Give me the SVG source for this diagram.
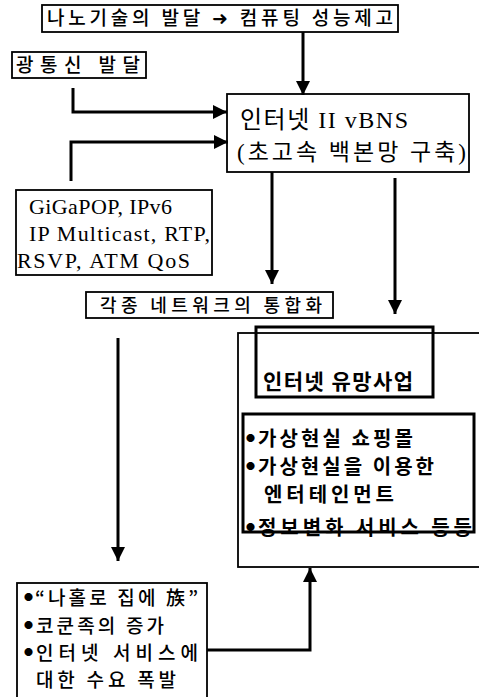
<svg xmlns="http://www.w3.org/2000/svg" width="479" height="697" viewBox="0 0 479 697">
<defs>
<marker id="ah" markerUnits="userSpaceOnUse" markerWidth="14" markerHeight="14" refX="14" refY="7" orient="auto">
<path d="M0,0 L14,7 L0,14 Z" fill="#000"/>
</marker>
</defs>
<style>
.box{fill:#fff;stroke:#000;stroke-width:1.8}
.tbox{fill:none;stroke:#000;stroke-width:3}
.kr{font-family:"Noto Sans CJK KR",sans-serif;fill:#000;font-weight:500}
.mix{font-family:"Liberation Serif","Noto Sans CJK KR",serif;fill:#000}
.b{font-weight:bold}
.dot{font-size:9px}
.con{fill:none;stroke:#000;stroke-width:3}
</style>
<rect width="479" height="697" fill="#fff"/>

<g id="n-nano">
<rect class="box" x="42" y="5" width="356" height="27"/>
<text class="kr" x="47" y="25" font-size="19" textLength="346" lengthAdjust="spacing">나노기술의 발달 ➜ 컴퓨팅 성능제고</text>
</g>

<g id="n-optical">
<rect class="box" x="12" y="52" width="134" height="26"/>
<text class="kr" x="16" y="72" font-size="19" textLength="124" lengthAdjust="spacing">광통신 발달</text>
</g>

<g id="n-internet2">
<rect class="box" x="227" y="94" width="242" height="78"/>
<text class="mix" x="240" y="128" font-size="24" textLength="168" lengthAdjust="spacing">인터넷 II vBNS</text>
<text class="mix" x="237" y="160" font-size="23" textLength="229" lengthAdjust="spacing">(초고속 백본망 구축)</text>
</g>

<g id="n-gigapop">
<rect class="box" x="16" y="190" width="196" height="85"/>
<text class="mix" x="29" y="214" font-size="22" textLength="143" lengthAdjust="spacing">GiGaPOP, IPv6</text>
<text class="mix" x="29" y="241" font-size="22" textLength="181" lengthAdjust="spacing">IP Multicast, RTP,</text>
<text class="mix" x="17" y="268" font-size="22" textLength="173" lengthAdjust="spacing">RSVP, ATM QoS</text>
</g>

<g id="n-integration">
<rect class="box" x="86" y="292" width="247" height="26"/>
<text class="kr" x="100" y="312" font-size="18" textLength="222" lengthAdjust="spacing">각종 네트워크의 통합화</text>
</g>

<g id="n-promising">
<rect class="box" x="238" y="333" width="250" height="234"/>
<rect class="tbox" x="256" y="327" width="177" height="70"/>
<text class="kr b" x="263" y="389" font-size="21" textLength="150" lengthAdjust="spacing">인터넷 유망사업</text>
<rect class="tbox" x="243" y="414" width="231" height="118"/>
<text class="kr b" x="246" y="446" font-size="20"><tspan class="dot" dy="-5">●</tspan><tspan x="258" dy="5" textLength="155" lengthAdjust="spacing">가상현실 쇼핑몰</tspan></text>
<text class="kr b" x="246" y="474" font-size="20"><tspan class="dot" dy="-5">●</tspan><tspan x="258" dy="5" textLength="176" lengthAdjust="spacing">가상현실을 이용한</tspan></text>
<text class="kr b" x="264" y="502" font-size="20" textLength="130" lengthAdjust="spacing">엔터테인먼트</text>
<text class="kr b" x="246" y="535" font-size="20"><tspan class="dot" dy="-5">●</tspan><tspan x="258" dy="5" textLength="214" lengthAdjust="spacing">정보변화 서비스 등등</tspan></text>
</g>

<g id="n-demand">
<rect class="box" x="17" y="583" width="190" height="118"/>
<text class="kr" x="24" y="605" font-size="19"><tspan class="dot" dy="-5">●</tspan><tspan x="35" dy="5" textLength="163" lengthAdjust="spacing">“나홀로 집에 族”</tspan></text>
<text class="kr" x="24" y="633" font-size="19"><tspan class="dot" dy="-5">●</tspan><tspan x="36" dy="5" textLength="128" lengthAdjust="spacing">코쿤족의 증가</tspan></text>
<text class="kr" x="24" y="660" font-size="19"><tspan class="dot" dy="-5">●</tspan><tspan x="36" dy="5" textLength="162" lengthAdjust="spacing">인터넷 서비스에</tspan></text>
<text class="kr" x="36" y="687" font-size="19" textLength="140" lengthAdjust="spacing">대한 수요 폭발</text>
</g>

<g id="connectors">
<path class="con" d="M303,32 V95" marker-end="url(#ah)"/>
<path class="con" d="M73,88 V112 H227" marker-end="url(#ah)"/>
<path class="con" d="M71,181 V142 H228" marker-end="url(#ah)"/>
<path class="con" d="M272,172 V284" marker-end="url(#ah)"/>
<path class="con" d="M395,178 V314" marker-end="url(#ah)"/>
<path class="con" d="M118,338 V561" marker-end="url(#ah)"/>
<path class="con" d="M207,650 H310 V568" marker-end="url(#ah)"/>
</g>
</svg>
